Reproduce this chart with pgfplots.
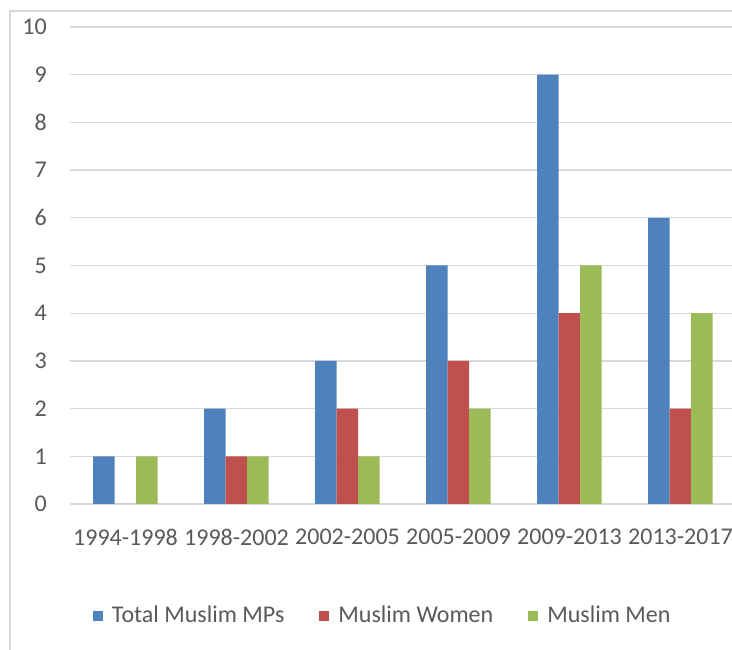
\documentclass[border=0pt]{standalone}
\usepackage{pgfplots}
\pgfplotsset{compat=1.18}
\usepackage{fontspec}
\setmainfont{Carlito}
\definecolor{cblue}{HTML}{4F81BD}
\definecolor{cred}{HTML}{C0504D}
\definecolor{cgreen}{HTML}{9BBB59}
\definecolor{ctext}{HTML}{595959}
\definecolor{cgrid}{HTML}{D9D9D9}
\begin{document}
\fontsize{24}{28}\selectfont
\begin{tikzpicture}
\useasboundingbox (0,0) rectangle (732pt,650pt);
\draw[cgrid, line width=1.5pt] (10pt,-5pt) -- (10pt,639pt) -- (740pt,639pt);
\begin{axis}[
  at={(70pt,146pt)}, anchor=south west,
  scale only axis, width=662pt, height=477pt,
  xmin=-0.5, xmax=5.464, ymin=0, ymax=10,
  ybar=0pt, bar width=21.5pt,
  axis line style={draw=none},
  ymajorgrids, grid style={cgrid, line width=1.3pt},
  ytick={0,...,10},
  xtick={0,...,5},
  xticklabels={1994-1998,1998-2002,2002-2005,2005-2009,2009-2013,2013-2017},
  major tick length=0pt,
  tick style={draw=none},
  tick label style={font=\fontsize{24}{28}\selectfont, text=ctext},
  /pgf/number format/assume math mode=true,
  yticklabel style={anchor=east, inner sep=0pt, xshift=-23pt},
  xticklabel style={anchor=north, inner sep=0pt, yshift=-25pt},
  legend columns=3,
  legend style={at={(23pt,-112pt)}, anchor=west, draw=none, fill=none,
    inner sep=0pt, outer sep=0pt,
    font=\fontsize{24}{28}\selectfont, text=ctext,
    nodes={inner sep=0pt},
    /tikz/every odd column/.append style={column sep=9pt},
    /tikz/every even column/.append style={column sep=35pt}},
  legend image code/.code={\fill[#1] (0pt,-5pt) rectangle (10pt,5pt);},
]
\addplot[fill=cblue, draw=none] coordinates {(0,1) (1,2) (2,3) (3,5) (4,9) (5,6)};
\addplot[fill=cred, draw=none] coordinates {(0,0) (1,1) (2,2) (3,3) (4,4) (5,2)};
\addplot[fill=cgreen, draw=none] coordinates {(0,1) (1,1) (2,1) (3,2) (4,5) (5,4)};
\legend{Total Muslim MPs, Muslim Women, Muslim Men}
\end{axis}
\end{tikzpicture}
\end{document}
